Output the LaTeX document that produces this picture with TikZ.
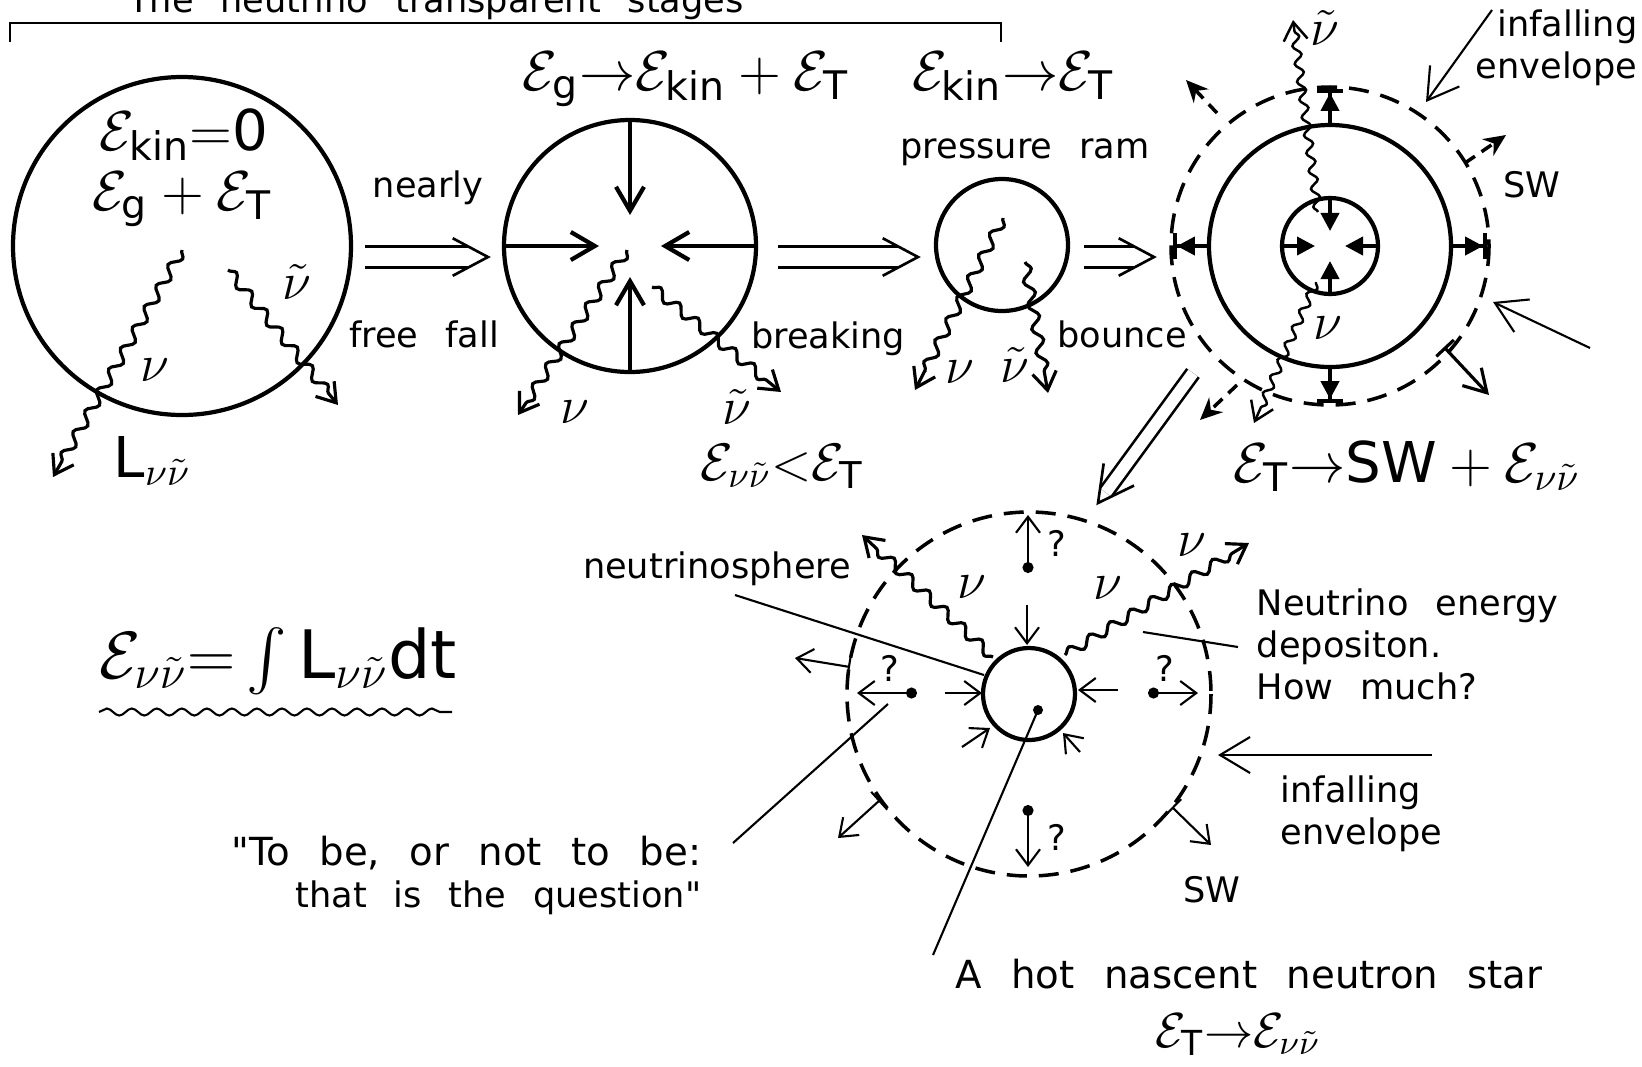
\RequirePackage{fix-cm}
\documentclass[tikz,border=0pt]{standalone}
\usepackage{amsmath}
\usepackage{fontspec}
\setmainfont{DejaVu Sans}[WordSpace=2.4]
\usetikzlibrary{arrows.meta, calc, decorations.pathmorphing}

\newcommand{\En}[1]{\mathcal{E}_{\text{#1}}}
\newcommand{\nn}{\nu\tilde{\nu}}
% double stroke arrow between stages: gap, cut, from, to
\newcommand{\dblarrow}[4]{%
  \draw[dbl, double distance=#1] (#3) -- ($(#4)!#2!(#3)$);
  \draw[chev] ($(#4)!0.4cm!28:(#3)$) -- (#4) -- ($(#4)!0.4cm!-28:(#3)$);}

\begin{document}
\begin{tikzpicture}[
    x=0.01cm, y=-0.01cm,
    shell/.style={line width=1.2pt},
    shock/.style={line width=1pt, dash pattern=on 0.2cm off 0.12cm},
    nu/.style={line width=0.9pt, decorate,
               decoration={snake, amplitude=0.05cm, segment length=0.24cm, post length=0.12cm},
               -{Straight Barb[length=1.8mm, width=2.4mm]}},
    nuthin/.style={nu, line width=0.7pt,
               decoration={snake, amplitude=0.04cm, segment length=0.18cm, post length=0.1cm}},
    fall/.style={line width=1.2pt, -{Straight Barb[length=2.4mm, width=2.8mm]}},
    push/.style={line width=1.1pt, -{Triangle[length=1.8mm, width=1.8mm]}},
    blast/.style={line width=1.1pt, -{Triangle[length=1.8mm, width=1.8mm] Bar[width=2.6mm]}},
    swd/.style={line width=1pt, dash pattern=on 0.12cm off 0.08cm, -{Stealth[length=2.2mm, width=2mm]}},
    sws/.style={line width=0.9pt, {Bar[width=2.4mm]}-{Straight Barb[length=2.2mm, width=2.6mm]}},
    thinarr/.style={line width=0.6pt, -{Straight Barb[length=1.6mm, width=2.4mm]}},
    qarr/.style={line width=0.6pt, {Circle[length=1.1mm]}-{Straight Barb[length=1.6mm, width=2.4mm]}},
    barr/.style={line width=0.6pt, {Bar[width=2.4mm]}-{Straight Barb[length=1.6mm, width=2.4mm]}},
    infall/.style={line width=0.6pt, -{Straight Barb[length=3mm, width=3.6mm]}},
    ptr/.style={line width=0.6pt},
    dbl/.style={double, double distance=0.18cm, line width=0.75pt},
    chev/.style={line width=0.75pt},
    lbl/.style={font=\fontsize{10}{12}\selectfont, inner sep=0pt},
    sym/.style={font=\fontsize{15}{18}\selectfont, inner sep=0pt},
    eq/.style={font=\fontsize{16}{19}\selectfont, inner sep=0pt}
  ]
  \useasboundingbox (0,0) rectangle (1642,1066);

  % Bracket over the transparent stages
  \node[lbl, anchor=base] (title) at (436,12) {The neutrino transparent stages};
  \coordinate (brL) at (10,42);
  \coordinate (brR) at (1001,42);
  \draw[line width=0.8pt] (brL) -- (10,23) -- (1001,23) -- (brR);

  % Stage 1
  \coordinate (c1) at (182,246);
  \draw[shell] (c1) circle[radius=169];
  \node[eq, anchor=base] (e1a) at (184,150) {$\En{kin}{=}\text{0}$};
  \node[eq, anchor=base] (e1b) at (182,210) {$\En{g}+\En{T}$};
  \coordinate (nu1s) at (182,250);
  \coordinate (nu1e) at (53,477);
  \draw[nu] (nu1s) -- (nu1e);
  \node[sym] (nu1) at (155,370) {$\nu$};
  \coordinate (an1s) at (228,270);
  \coordinate (an1e) at (338,405);
  \draw[nu] (an1s) -- (an1e);
  \node[sym] (an1) at (297,282) {$\tilde{\nu}$};
  \node[eq, anchor=base west] (lum) at (113,477) {$\text{L}_{\nn}$};

  \coordinate (d1s) at (365,257);
  \coordinate (d1e) at (488,257);
  \dblarrow{0.18cm}{0.2cm}{d1s}{d1e}
  \node[lbl, anchor=base] (nearly) at (428,197) {nearly};
  \node[lbl, anchor=base] (ffall) at (424,347) {free fall};

  % Stage 2
  \node[eq, anchor=base] (e2) at (686,90) {$\En{g}{\to}\En{kin}+\En{T}$};
  \coordinate (c2) at (630,246);
  \draw[shell] (c2) circle[radius=126];
  \foreach \a in {0,90,180,270}
    \draw[fall] ($(c2)+(\a:126)$) -- ($(c2)+(\a:31)$);
  \coordinate (nu2s) at (627,250);
  \coordinate (nu2e) at (518,415);
  \draw[nu] (nu2s) -- (nu2e);
  \node[sym] (nu2) at (575,412) {$\nu$};
  \coordinate (an2s) at (652,287);
  \coordinate (an2e) at (781,392);
  \draw[nu] (an2s) -- (an2e);
  \node[sym] (an2) at (737,407) {$\tilde{\nu}$};
  \node[lbl, anchor=base] (brk) at (828,348) {breaking};
  \node[sym, anchor=base] (e2b) at (782,480) {$\mathcal{E}_{\nn}{<}\En{T}$};

  \coordinate (d2s) at (778,257);
  \coordinate (d2e) at (918,257);
  \dblarrow{0.18cm}{0.2cm}{d2s}{d2e}

  % Stage 3
  \node[eq, anchor=base] (e3) at (1013,90) {$\En{kin}{\to}\En{T}$};
  \node[lbl, anchor=base] (pram) at (1025,158) {pressure ram};
  \coordinate (c3) at (1002,245);
  \draw[shell] (c3) circle[radius=66];
  \coordinate (nu3s) at (1003,218);
  \coordinate (nu3e) at (915,390);
  \draw[nu] (nu3s) -- (nu3e);
  \node[sym] (nu3) at (960,372) {$\nu$};
  \coordinate (an3s) at (1025,262);
  \coordinate (an3e) at (1048,393);
  \draw[nu] (an3s) -- (an3e);
  \node[sym] (an3) at (1015,365) {$\tilde{\nu}$};
  \node[lbl, anchor=base] (bnc) at (1122,347) {bounce};

  \coordinate (d3s) at (1084,257);
  \coordinate (d3e) at (1154,257);
  \dblarrow{0.18cm}{0.2cm}{d3s}{d3e}

  % Stage 4
  \coordinate (c4) at (1330,246);
  \draw[shell] (c4) circle[radius=121];
  \draw[shell] (c4) circle[radius=48];
  \draw[shock] (c4) circle[radius=159];
  \foreach \a in {0,90,180,270} {
    \draw[push] ($(c4)+(\a:48)$) -- ($(c4)+(\a:15)$);
    \draw[blast] ($(c4)+(\a:121)$) -- ($(c4)+(\a:157)$);
  }
  \draw[swd] ($(c4)+(-113,-133)$) -- ($(c4)+(-144,-166)$);
  \draw[swd] ($(c4)+(135,-83)$) -- ($(c4)+(176,-111)$);
  \draw[swd] ($(c4)+(-93,139)$) -- ($(c4)+(-130,174)$);
  \draw[sws] ($(c4)+(114,101)$) -- ($(c4)+(159,149)$);
  \coordinate (an4s) at (1318,212);
  \coordinate (an4e) at (1293,20);
  \draw[nuthin] (an4s) -- (an4e);
  \node[sym] (an4) at (1325,28) {$\tilde{\nu}$};
  \coordinate (nu4s) at (1316,282);
  \coordinate (nu4e) at (1254,423);
  \draw[nuthin] (nu4s) -- (nu4e);
  \node[sym] (nu4) at (1328,328) {$\nu$};
  \node[lbl, align=right, anchor=north east] (inf1) at (1638,9)
    {\fontsize{10}{12.8}\selectfont infalling\\envelope};
  \coordinate (inf1t) at (1492,10);
  \coordinate (inf1h) at (1426,102);
  \draw[infall] (inf1t) -- (inf1h);
  \coordinate (inf2t) at (1590,348);
  \coordinate (inf2h) at (1493,302);
  \draw[infall] (inf2t) -- (inf2h);
  \node[lbl, anchor=base] (sw1) at (1532,197) {SW};
  \node[eq, anchor=base] (e4) at (1407,482) {$\En{T}{\to}\text{SW}+\mathcal{E}_{\nn}$};

  \coordinate (d4s) at (1193,373);
  \coordinate (d4e) at (1098,503);
  \dblarrow{0.115cm}{0.13cm}{d4s}{d4e}

  % Stage 5
  \coordinate (c5) at (1029,694);
  \coordinate (core) at (1038,710);
  \draw[shell] (c5) circle[radius=46];
  \draw[shock] (c5) circle[radius=182];
  \fill (core) circle[radius=5];
  \draw[qarr] (1028,573) -- (1028,515);
  \draw[qarr] (1028,805) -- (1028,867);
  \draw[qarr] (917,693) -- (857,693);
  \draw[qarr] (1148,693) -- (1198,693);
  \node[lbl] (q1) at (1057,543) {?};
  \node[lbl] (q2) at (1057,837) {?};
  \node[lbl] (q3) at (890,668) {?};
  \node[lbl] (q4) at (1165,668) {?};
  \draw[thinarr] (1027,605) -- (1027,645);
  \draw[thinarr] (945,693) -- (982,693);
  \draw[thinarr] (1118,690) -- (1078,690);
  \draw[thinarr] (962,747) -- (990,728);
  \draw[thinarr] (1080,752) -- (1063,733);
  \draw[barr] (850,667) -- (795,658);
  \draw[barr] (880,800) -- (838,838);
  \draw[barr] (1172,807) -- (1211,845);
  \coordinate (nu5s) at (993,657);
  \coordinate (nu5e) at (862,535);
  \draw[nu] (nu5s) -- (nu5e);
  \coordinate (nu6s) at (1065,655);
  \coordinate (nu6e) at (1249,543);
  \draw[nu] (nu6s) -- (nu6e);
  \node[sym] (nu5) at (972,587) {$\nu$};
  \node[sym] (nu6) at (1108,588) {$\nu$};
  \node[sym] (nu7) at (1192,545) {$\nu$};

  \node[lbl, anchor=base] (nsph) at (717,578) {neutrinosphere};
  \coordinate (nsphp) at (735,595);
  \coordinate (nsphq) at (984,675);
  \draw[ptr] (nsphp) -- (nsphq);
  \node[lbl, align=left, anchor=north west] (dep) at (1256,588)
    {\fontsize{10}{10.4}\selectfont Neutrino energy\\depositon.\\How much?};
  \coordinate (depp) at (1238,647);
  \coordinate (depq) at (1143,632);
  \draw[ptr] (depp) -- (depq);
  \node[lbl, align=left, anchor=north west] (inf3) at (1280,775)
    {\fontsize{10}{10.2}\selectfont infalling\\envelope};
  \coordinate (inf3t) at (1432,755);
  \coordinate (inf3h) at (1218,755);
  \draw[infall] (inf3t) -- (inf3h);
  \node[lbl, anchor=base] (sw2) at (1212,902) {SW};
  \node[lbl, align=right, anchor=north east] (hamlet) at (702,835)
    {\fontsize{11}{11.4}\selectfont \textquotedbl To be, or not to be:\\that is the question\textquotedbl};
  \coordinate (hamp) at (733,843);
  \coordinate (hamq) at (888,704);
  \draw[ptr] (hamp) -- (hamq);
  \node[lbl, anchor=base, font=\fontsize{11}{13}\selectfont] (nstar) at (1249,988)
    {A hot nascent neutron star};
  \coordinate (nstarp) at (933,955);
  \draw[ptr] (nstarp) -- (core);
  \node[font=\fontsize{14}{17}\selectfont, inner sep=0pt, anchor=base] (e5) at (1238,1047)
    {$\En{T}{\to}\mathcal{E}_{\nn}$};

  % Total radiated energy
  \node[font=\fontsize{19}{22}\selectfont, inner sep=0pt, anchor=base] (etot) at (278,678)
    {$\mathcal{E}_{\nn}{=}\textstyle\int\text{L}_{\nn}\text{dt}$};
  \coordinate (wigL) at (99,712);
  \coordinate (wigR) at (452,712);
  \draw[line width=0.6pt, decorate, decoration={snake, amplitude=0.035cm, segment length=0.25cm}]
    (wigL) -- (wigR);

\end{tikzpicture}
\end{document}
